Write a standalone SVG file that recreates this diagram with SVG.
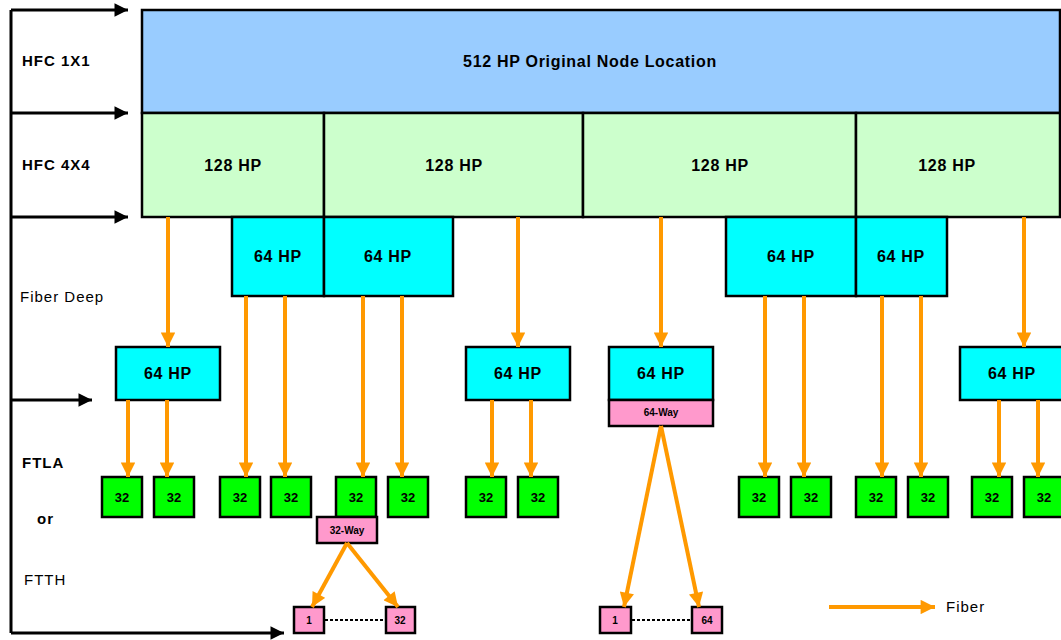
<svg xmlns="http://www.w3.org/2000/svg" width="1061" height="640" viewBox="0 0 1061 640">
<style>
.box{stroke:#000;stroke-width:2.5}
.blue{fill:#99ccff}.lg{fill:#ccffcc}.cy{fill:#00ffff}.gr{fill:#00ff00}.pk{fill:#ff99cc}
text{font-family:"Liberation Sans",Arial,sans-serif;fill:#000;text-anchor:middle}
.t{font-size:16px;font-weight:bold;letter-spacing:0.7px}
.s{font-size:13px;font-weight:bold}
.xs{font-size:10px;font-weight:bold}
.lab{font-size:15px;text-anchor:start;letter-spacing:1px}
.fib{stroke:#ff9900;stroke-width:4;fill:none}
.blk{stroke:#000;stroke-width:3;fill:none}
.dot{stroke:#000;stroke-width:2;stroke-dasharray:3 2}
</style>
<defs>
<marker id="oa" viewBox="0 0 10 10" refX="10" refY="5" markerWidth="4" markerHeight="3.6" markerUnits="strokeWidth" orient="auto"><path d="M0,0 L10,5 L0,10 z" fill="#ff9900"/></marker>
<marker id="ba" viewBox="0 0 10 10" refX="10" refY="5" markerWidth="7" markerHeight="4.5" markerUnits="strokeWidth" orient="auto"><path d="M0,0 L10,5 L0,10 z" fill="#000"/></marker>
</defs>
<rect width="1061" height="640" fill="#fff"/>
<g id="axis">
<path class="blk" d="M11,10 V633"/>
<path class="blk" d="M11,10 H128" marker-end="url(#ba)"/>
<path class="blk" d="M11,113 H128" marker-end="url(#ba)"/>
<path class="blk" d="M11,217 H128" marker-end="url(#ba)"/>
<path class="blk" d="M11,400 H92" marker-end="url(#ba)"/>
<path class="blk" d="M11,633 H284" marker-end="url(#ba)"/>
</g>
<g id="labels">
<text class="lab" x="22" y="66" font-weight="bold">HFC 1X1</text>
<text class="lab" x="22" y="170" font-weight="bold">HFC 4X4</text>
<text class="lab" x="20" y="302" font-size="16">Fiber Deep</text>
<text class="lab" x="22" y="468" font-weight="bold">FTLA</text>
<text class="lab" x="37" y="524" font-weight="bold">or</text>
<text class="lab" x="24" y="585" font-size="16">FTTH</text>
</g>
<g id="node-512"><rect class="box blue" x="142" y="10" width="918" height="103"/><text class="t" x="590" y="67">512 HP Original Node Location</text></g>
<g id="hfc44-1"><rect class="box lg" x="142" y="113" width="182" height="104"/><text class="t" x="233" y="171">128 HP</text></g>
<g id="hfc44-2"><rect class="box lg" x="324" y="113" width="259" height="104"/><text class="t" x="454" y="171">128 HP</text></g>
<g id="hfc44-3"><rect class="box lg" x="583" y="113" width="273" height="104"/><text class="t" x="720" y="171">128 HP</text></g>
<g id="hfc44-4"><rect class="box lg" x="856" y="113" width="204" height="104"/><text class="t" x="947" y="171">128 HP</text></g>
<g id="fd-a"><rect class="box cy" x="232" y="217" width="92" height="79"/><text class="t" x="278" y="262">64 HP</text></g>
<g id="fd-b"><rect class="box cy" x="324" y="217" width="129" height="79"/><text class="t" x="388" y="262">64 HP</text></g>
<g id="fd-c"><rect class="box cy" x="726" y="217" width="130" height="79"/><text class="t" x="791" y="262">64 HP</text></g>
<g id="fd-d"><rect class="box cy" x="856" y="217" width="91" height="79"/><text class="t" x="901" y="262">64 HP</text></g>
<g id="fd-e"><rect class="box cy" x="116" y="347" width="104" height="53"/><text class="t" x="168" y="379">64 HP</text></g>
<g id="fd-f"><rect class="box cy" x="466" y="347" width="104" height="53"/><text class="t" x="518" y="379">64 HP</text></g>
<g id="fd-g"><rect class="box cy" x="609" y="347" width="104" height="53"/><text class="t" x="661" y="379">64 HP</text></g>
<g id="split64"><rect class="box pk" x="609" y="400" width="104" height="26"/><text class="xs" x="661" y="416">64-Way</text></g>
<g id="fd-h"><rect class="box cy" x="960" y="347" width="104" height="53"/><text class="t" x="1012" y="379">64 HP</text></g>
<g id="n32-1"><rect class="box gr" x="102" y="477" width="40" height="40"/><text class="s" x="122" y="502">32</text></g>
<g id="n32-2"><rect class="box gr" x="154" y="477" width="40" height="40"/><text class="s" x="174" y="502">32</text></g>
<g id="n32-3"><rect class="box gr" x="220" y="477" width="40" height="40"/><text class="s" x="240" y="502">32</text></g>
<g id="n32-4"><rect class="box gr" x="271" y="477" width="40" height="40"/><text class="s" x="291" y="502">32</text></g>
<g id="n32-5"><rect class="box gr" x="336" y="477" width="40" height="40"/><text class="s" x="356" y="502">32</text></g>
<g id="n32-6"><rect class="box gr" x="388" y="477" width="40" height="40"/><text class="s" x="408" y="502">32</text></g>
<g id="n32-7"><rect class="box gr" x="466" y="477" width="40" height="40"/><text class="s" x="486" y="502">32</text></g>
<g id="n32-8"><rect class="box gr" x="518" y="477" width="40" height="40"/><text class="s" x="538" y="502">32</text></g>
<g id="n32-9"><rect class="box gr" x="739" y="477" width="40" height="40"/><text class="s" x="759" y="502">32</text></g>
<g id="n32-10"><rect class="box gr" x="791" y="477" width="40" height="40"/><text class="s" x="811" y="502">32</text></g>
<g id="n32-11"><rect class="box gr" x="856" y="477" width="40" height="40"/><text class="s" x="876" y="502">32</text></g>
<g id="n32-12"><rect class="box gr" x="908" y="477" width="40" height="40"/><text class="s" x="928" y="502">32</text></g>
<g id="n32-13"><rect class="box gr" x="972" y="477" width="40" height="40"/><text class="s" x="992" y="502">32</text></g>
<g id="n32-14"><rect class="box gr" x="1024" y="477" width="40" height="40"/><text class="s" x="1044" y="502">32</text></g>
<g id="split32"><rect class="box pk" x="317" y="517" width="60" height="26"/><text class="xs" x="347" y="534">32-Way</text></g>
<g id="p1a"><rect class="box pk" x="294" y="607" width="30" height="26"/><text class="xs" x="309" y="624">1</text></g>
<g id="p32"><rect class="box pk" x="386" y="607" width="29" height="26"/><text class="xs" x="400" y="624">32</text></g>
<g id="p1b"><rect class="box pk" x="600" y="607" width="31" height="26"/><text class="xs" x="615" y="624">1</text></g>
<g id="p64"><rect class="box pk" x="692" y="607" width="30" height="26"/><text class="xs" x="707" y="624">64</text></g>
<g id="connectors">
<path class="fib" d="M168,217 V347" marker-end="url(#oa)"/>
<path class="fib" d="M518,217 V347" marker-end="url(#oa)"/>
<path class="fib" d="M661,217 V347" marker-end="url(#oa)"/>
<path class="fib" d="M1024,217 V347" marker-end="url(#oa)"/>
<path class="fib" d="M128,400 V477" marker-end="url(#oa)"/>
<path class="fib" d="M167,400 V477" marker-end="url(#oa)"/>
<path class="fib" d="M246,296 V477" marker-end="url(#oa)"/>
<path class="fib" d="M285,296 V477" marker-end="url(#oa)"/>
<path class="fib" d="M363,296 V477" marker-end="url(#oa)"/>
<path class="fib" d="M402,296 V477" marker-end="url(#oa)"/>
<path class="fib" d="M492,400 V477" marker-end="url(#oa)"/>
<path class="fib" d="M531,400 V477" marker-end="url(#oa)"/>
<path class="fib" d="M765,296 V477" marker-end="url(#oa)"/>
<path class="fib" d="M804,296 V477" marker-end="url(#oa)"/>
<path class="fib" d="M882,296 V477" marker-end="url(#oa)"/>
<path class="fib" d="M921,296 V477" marker-end="url(#oa)"/>
<path class="fib" d="M999,400 V477" marker-end="url(#oa)"/>
<path class="fib" d="M1038,400 V477" marker-end="url(#oa)"/>
<path class="fib" d="M347,543 L312,607" marker-end="url(#oa)"/>
<path class="fib" d="M347,543 L398,607" marker-end="url(#oa)"/>
<path class="fib" d="M661,426 L624,607" marker-end="url(#oa)"/>
<path class="fib" d="M661,426 L699,607" marker-end="url(#oa)"/>
<path class="dot" d="M325,620 H385"/>
<path class="dot" d="M632,620 H691"/>
</g>
<g id="legend">
<path class="fib" d="M829,607 H935" marker-end="url(#oa)"/>
<text class="lab" x="946" y="612" font-size="16">Fiber</text>
</g>
</svg>
